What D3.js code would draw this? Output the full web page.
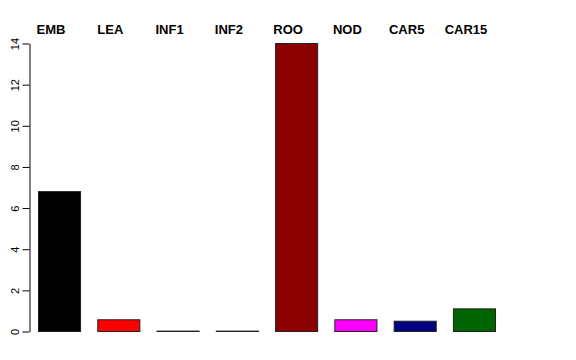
<!DOCTYPE html>
<html>
<head>
<meta charset="utf-8">
<script src="https://cdn.jsdelivr.net/npm/d3@7"></script>
<style>
  body { margin: 0; background: #fff; }
  svg { display: block; font-family: "Liberation Sans", Arial, sans-serif; }
</style>
</head>
<body>
<div id="wrapper"></div>
<script>
// data
const categories = ["EMB", "LEA", "INF1", "INF2", "ROO", "NOD", "CAR5", "CAR15"];
const values = [6.8, 0.57, 0.02, 0.02, 14, 0.57, 0.5, 1.1];
const barColors = ["#000000", "#ff0000", "#00cd00", "#0000ff", "#8b0000", "#ff00ff", "#000080", "#006400"];
const yTicks = [0, 2, 4, 6, 8, 10, 12, 14];

const drawBarChart = () => {
  const dimensions = { width: 576, height: 360 };

  const svg = d3.select("#wrapper")
    .append("svg")
    .attr("width", dimensions.width)
    .attr("height", dimensions.height);

  // scales
  const xScale = d3.scaleBand()
    .domain(categories)
    .range([38, 495])
    .paddingInner(0.29)
    .paddingOuter(0);

  const yScale = d3.scaleLinear()
    .domain([0, 14])
    .range([331, 43]);

  // bars
  svg.append("g")
    .selectAll("rect")
    .data(categories)
    .join("rect")
    .attr("x", d => xScale(d) + 0.5)
    .attr("y", (d, i) => yScale(values[i]) + 0.5)
    .attr("width", xScale.bandwidth())
    .attr("height", (d, i) => yScale(0) - yScale(values[i]))
    .attr("fill", (d, i) => barColors[i])
    .attr("stroke", "#222")
    .attr("stroke-width", 1);

  // category labels across the top
  svg.append("g")
    .selectAll("text")
    .data(categories)
    .join("text")
    .attr("x", d => xScale(d) + xScale.bandwidth() / 2 - 8)
    .attr("y", 34)
    .attr("text-anchor", "middle")
    .attr("font-size", 13)
    .attr("font-weight", "bold")
    .text(d => d);

  // y axis
  const yAxis = d3.axisLeft(yScale)
    .tickValues(yTicks)
    .tickSize(7)
    .tickSizeOuter(0)
    .tickFormat(d3.format("d"));

  const axisG = svg.append("g")
    .attr("transform", "translate(29.5,0.5)")
    .call(yAxis);

  axisG.select(".domain").attr("stroke", "#000");
  axisG.selectAll(".tick line").attr("stroke", "#000");
  axisG.selectAll(".tick text")
    .attr("font-size", 11)
    .attr("font-family", "Liberation Sans, Arial, sans-serif")
    .attr("fill", "#000")
    .attr("text-anchor", "middle")
    .attr("transform", "rotate(-90)")
    .attr("x", 0)
    .attr("y", -11)
    .attr("dy", 0);
};

drawBarChart();
</script>
</body>
</html>
